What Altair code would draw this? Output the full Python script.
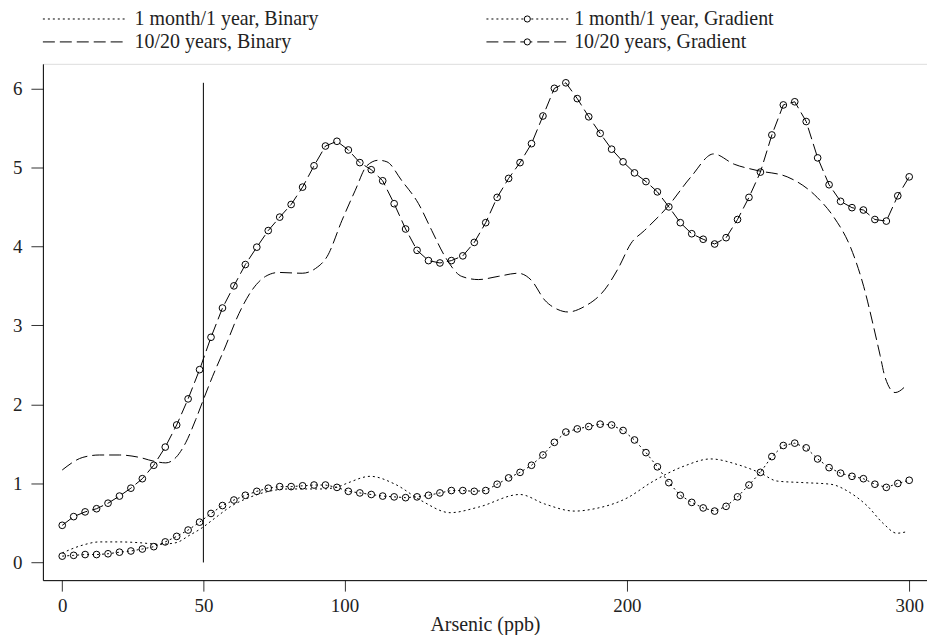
import altair as alt
import pandas as pd

# ---------------- data ----------------
X_GRAD = [0, 4.05, 8.11, 12.16, 16.22, 20.27, 24.32, 28.38, 32.43, 36.49, 40.54, 44.59,
          48.65, 52.70, 56.76, 60.81, 64.86, 68.92, 72.97, 77.03, 81.08, 85.14, 89.19,
          93.24, 97.30, 101.35, 105.41, 109.46, 113.51, 117.57, 121.62, 125.68, 129.73,
          133.78, 137.84, 141.89, 145.95, 150.00, 154.05, 158.11, 162.16, 166.22, 170.27,
          174.32, 178.38, 182.43, 186.49, 190.54, 194.59, 198.65, 202.70, 206.76, 210.81,
          214.86, 218.92, 222.97, 227.03, 231.08, 235.14, 239.19, 243.24, 247.30, 251.35,
          255.41, 259.46, 263.51, 267.57, 271.62, 275.68, 279.73, 283.78, 287.84, 291.89,
          295.95, 300.00]

GRAD_10Y = [0.47, 0.58, 0.64, 0.68, 0.75, 0.84, 0.94, 1.06, 1.23, 1.46, 1.74, 2.07,
            2.44, 2.85, 3.22, 3.50, 3.77, 3.99, 4.20, 4.37, 4.53, 4.75, 5.02, 5.27,
            5.33, 5.22, 5.06, 4.97, 4.83, 4.54, 4.22, 3.95, 3.82, 3.79, 3.82, 3.88,
            4.05, 4.30, 4.62, 4.86, 5.06, 5.30, 5.65, 6.00, 6.07, 5.87, 5.64, 5.43,
            5.23, 5.07, 4.93, 4.82, 4.69, 4.50, 4.30, 4.16, 4.09, 4.03, 4.11, 4.34,
            4.62, 4.94, 5.41, 5.79, 5.83, 5.58, 5.12, 4.78, 4.57, 4.49, 4.46, 4.34,
            4.32, 4.64, 4.88]

GRAD_1M = [0.08, 0.09, 0.10, 0.10, 0.11, 0.13, 0.145, 0.17, 0.20, 0.26, 0.33, 0.41,
           0.51, 0.62, 0.72, 0.79, 0.85, 0.90, 0.94, 0.96, 0.96, 0.97, 0.98, 0.98,
           0.95, 0.90, 0.88, 0.86, 0.84, 0.83, 0.82, 0.83, 0.85, 0.88, 0.91, 0.91,
           0.90, 0.91, 0.99, 1.07, 1.14, 1.23, 1.36, 1.52, 1.65, 1.69, 1.72, 1.75,
           1.74, 1.67, 1.55, 1.39, 1.21, 1.01, 0.85, 0.76, 0.69, 0.65, 0.71, 0.83,
           0.98, 1.14, 1.34, 1.48, 1.51, 1.45, 1.31, 1.20, 1.13, 1.09, 1.06, 0.99,
           0.95, 1.00, 1.04]

X_BIN_1M = [0, 7.3, 13.2, 20.2, 27.3, 34.4, 40.3, 44.9, 49.6, 54.4, 60.2, 66.1, 72.0,
            80.3, 86.2, 92.0, 97.9, 101.4, 109.1, 117.9, 127.3, 137.4, 147.4, 162.1,
            170.9, 181.5, 188.6, 200.3, 208.5, 220.3, 229.7, 239.1, 247.4, 253.2,
            262.7, 272.1, 279.2, 285.0, 290.9, 295.6, 299.2]
BIN_1M = [0.12, 0.22, 0.26, 0.26, 0.25, 0.23, 0.25, 0.34, 0.44, 0.57, 0.72, 0.82, 0.89,
          0.93, 0.93, 0.93, 0.96, 1.01, 1.09, 0.99, 0.78, 0.63, 0.70, 0.86,
          0.74, 0.65, 0.68, 0.82, 1.01, 1.22, 1.31, 1.24, 1.13, 1.03,
          1.01, 0.99, 0.88, 0.72, 0.49, 0.37, 0.39]

X_BIN_10Y = [0, 7.3, 13.2, 20.2, 27.3, 32.6, 36.7, 40.3, 43.8, 47.3, 50.0, 53.2, 57.3,
             62.6, 67.3, 72.0, 76.7, 85.0, 89.7, 93.8, 99.1, 103.8, 107.9, 112.0, 115.0,
             120.3, 126.2, 130.9, 135.6, 141.5, 147.4, 154.4, 161.5, 166.2, 170.9,
             175.6, 179.1, 185.0, 192.1, 196.9, 201.5, 206.2, 214.4, 222.7, 230.7,
             238.0, 246.2, 256.8, 267.4, 273.3, 279.2, 283.9, 287.4, 289.7, 291.4,
             295.0, 299.2]
BIN_10Y = [1.17, 1.33, 1.36, 1.36, 1.33, 1.28, 1.26, 1.33, 1.52, 1.81, 2.06, 2.35, 2.69,
           3.15, 3.45, 3.62, 3.67, 3.66, 3.72, 3.87, 4.33, 4.71, 5.02, 5.09, 5.07,
           4.83, 4.54, 4.20, 3.87, 3.62, 3.58, 3.62, 3.66, 3.57, 3.32,
           3.20, 3.17, 3.24, 3.45, 3.72, 4.04, 4.20, 4.50, 4.88, 5.17,
           5.04, 4.96, 4.88, 4.62, 4.37, 3.99, 3.49, 2.98, 2.62, 2.35,
           2.15, 2.25]

THRESHOLD_X = [50]
THRESHOLD_Y0 = [0]
THRESHOLD_Y1 = [6.07]

X_TICKS = [0, 50, 100, 200, 300]
Y_TICKS = [0, 1, 2, 3, 4, 5, 6]
X_TITLE = "Arsenic (ppb)"
LEGEND_LABELS = ["1 month/1 year, Binary", "10/20 years, Binary",
                 "1 month/1 year, Gradient", "10/20 years, Gradient"]

# ---------------- styling / layout ----------------
FONT = "Liberation Serif"
W, H = 887, 518
DOT = [2, 3]
DASH = [12, 5]
PT_SIZE = 45

xs = alt.Scale(domain=[-6.85, 306.3], nice=False, zero=False)
ys = alt.Scale(domain=[-0.224, 6.31], nice=False, zero=False)
xax = alt.Axis(values=X_TICKS, tickSize=11, labelPadding=5, grid=False,
               domainColor="black", tickColor="#333", labelColor="#222",
               labelFont=FONT, labelFontSize=19, titleFont=FONT, titleFontSize=20,
               titleFontWeight="normal", titleColor="#222", titlePadding=0,
               labelFlush=False)
yax = alt.Axis(values=Y_TICKS, tickSize=12, labelPadding=9, grid=False,
               domainColor="black", tickColor="#333", labelColor="#222",
               labelFont=FONT, labelFontSize=19, labelFlush=False)


def enc_x():
    return alt.X("x:Q", scale=xs, axis=xax, title=X_TITLE)


def enc_y():
    return alt.Y("y:Q", scale=ys, axis=yax, title="")


df_g10 = pd.DataFrame({"x": X_GRAD, "y": GRAD_10Y})
df_g1 = pd.DataFrame({"x": X_GRAD, "y": GRAD_1M})
df_b1 = pd.DataFrame({"x": X_BIN_1M, "y": BIN_1M})
df_b10 = pd.DataFrame({"x": X_BIN_10Y, "y": BIN_10Y})
df_thr = pd.DataFrame({"x": THRESHOLD_X, "y": THRESHOLD_Y0, "y2": THRESHOLD_Y1})

layers = []
layers.append(alt.Chart(df_b1).mark_line(color="black", strokeWidth=1, strokeDash=DOT,
                                         interpolate="monotone")
              .encode(x=enc_x(), y=enc_y()))
layers.append(alt.Chart(df_b10).mark_line(color="black", strokeWidth=1, strokeDash=DASH,
                                          interpolate="monotone")
              .encode(x=enc_x(), y=enc_y()))
layers.append(alt.Chart(df_g1).mark_line(color="black", strokeWidth=1, strokeDash=DOT)
              .encode(x=enc_x(), y=enc_y()))
layers.append(alt.Chart(df_g1).mark_point(shape="circle", filled=False, color="black",
                                          strokeWidth=1, size=PT_SIZE, opacity=1)
              .encode(x=enc_x(), y=enc_y()))
layers.append(alt.Chart(df_g10).mark_line(color="black", strokeWidth=1, strokeDash=DASH)
              .encode(x=enc_x(), y=enc_y()))
layers.append(alt.Chart(df_g10).mark_point(shape="circle", filled=False, color="black",
                                           strokeWidth=1, size=PT_SIZE, opacity=1)
              .encode(x=enc_x(), y=enc_y()))
layers.append(alt.Chart(df_thr).mark_rule(color="black", strokeWidth=1)
              .encode(x=enc_x(), y=enc_y(), y2="y2:Q"))

# ---------------- manual legend (pixel layout, above plot) ----------------
ROWS = [-45, -22]
COL_LINE = [(0, 82), (445, 527)]
COL_TEXT = [92, 533]
one = pd.DataFrame({"a": [0]})
leg_styles = [(0, 0, DOT, False), (0, 1, DASH, False), (1, 0, DOT, True), (1, 1, DASH, True)]
for i, (c, r, dash, circ) in enumerate(leg_styles):
    x0, x1 = COL_LINE[c]
    layers.append(alt.Chart(one).mark_rule(color="black", strokeWidth=1, strokeDash=dash)
                  .encode(x=alt.value(x0), x2=alt.value(x1), y=alt.value(ROWS[r])))
    if circ:
        layers.append(alt.Chart(one).mark_point(shape="circle", filled=True, fill="white",
                                                stroke="black", strokeWidth=1, size=38,
                                                opacity=1)
                      .encode(x=alt.value((x0 + x1) / 2), y=alt.value(ROWS[r])))
    layers.append(alt.Chart(pd.DataFrame({"t": [LEGEND_LABELS[i]]}))
                  .mark_text(align="left", baseline="middle", font=FONT, fontSize=20,
                             color="#222")
                  .encode(text="t:N", x=alt.value(COL_TEXT[c]), y=alt.value(ROWS[r])))

chart = (alt.layer(*layers)
         .properties(width=W, height=H,
                     autosize=alt.AutoSizeParams(type="none"),
                     padding={"left": 35, "top": 55, "right": 0, "bottom": 54})
         .configure_view(stroke=None)
         .configure(background="white"))

chart.save("out.html", embed_options={"renderer": "svg", "actions": False})
